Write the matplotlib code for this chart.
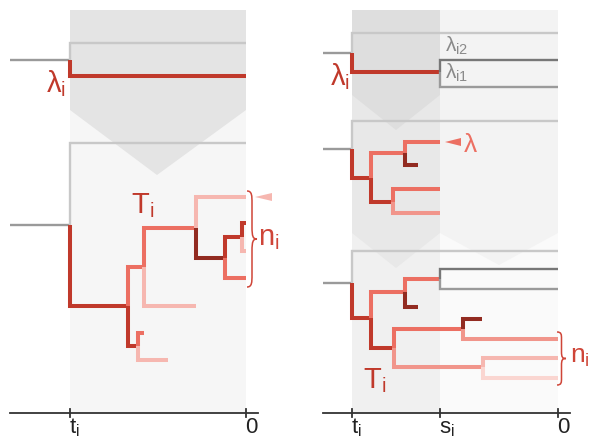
import matplotlib
matplotlib.use("Agg")
import matplotlib.pyplot as plt
from matplotlib.path import Path
from matplotlib.patches import PathPatch

plt.rcParams['font.family'] = ['Liberation Sans', 'DejaVu Sans']
plt.rcParams['mathtext.fontset'] = 'custom'
plt.rcParams['mathtext.rm'] = 'Liberation Sans'
plt.rcParams['mathtext.it'] = 'Liberation Sans'
plt.rcParams['mathtext.bf'] = 'Liberation Sans:bold'

# ---------------- colours ----------------
COL = {
    'lg': '#c8c8c8', 'g': '#9a9a9a', 'dg': '#777777',
    'dr': '#922b21', 'r': '#c0392b', 's': '#ec6f62',
    'ls': '#f1958b', 'p': '#f6b7b0', 'vp': '#fad6d1',
}

# ---------------- background regions (polygons, screen units) ----------------
bg_left_full = ([70, 246, 246, 70], [10, 10, 413, 413], '#f6f6f6')
bg_left_top = ([70, 246, 246, 157, 70], [10, 10, 110, 175, 110], '#e4e4e4')
bg_r1_full = ([352, 440, 440, 352], [10, 10, 413, 413], '#f0f0f0')
bg_r1_mid = ([352, 440, 440, 396, 352], [10, 10, 233, 268, 233], '#e8e8e8')
bg_r1_top = ([352, 440, 440, 396, 352], [10, 10, 95, 130, 95], '#dedede')
bg_r2_full = ([440, 558, 558, 440], [10, 10, 413, 413], '#fafafa')
bg_r2_top = ([440, 558, 558, 499, 440], [10, 10, 233, 265, 233], '#f3f3f3')
backgrounds = [bg_left_full, bg_left_top, bg_r1_full, bg_r1_mid, bg_r1_top,
               bg_r2_full, bg_r2_top]

# ---------------- trees: (x_parent, y_parent, x_end, y_child, colour) ----------------
tree_left_top = [
    (10, 60, 70, 60, 'g'),
    (70, 60, 246, 43, 'lg'),
    (70, 60, 246, 76, 'r'),
]
tree_left_bottom = [
    (10, 225, 70, 225, 'g'),
    (70, 225, 246, 143, 'lg'),
    (70, 225, 128, 306, 'r'),
    (128, 306, 144, 267, 's'),
    (128, 306, 138, 346, 'r'),
    (144, 267, 196, 228, 's'),
    (144, 267, 196, 306, 'p'),
    (196, 228, 246, 197, 'p'),
    (196, 228, 225, 258, 'dr'),
    (225, 258, 242, 237, 'r'),
    (225, 258, 246, 278, 's'),
    (242, 237, 246, 223, 'r'),
    (242, 237, 246, 251, 'p'),
    (138, 346, 144, 333, 's'),
    (138, 346, 168, 360, 'p'),
]
tree_right_top = [
    (323, 53, 352, 53, 'g'),
    (352, 53, 558, 33, 'lg'),
    (352, 53, 440, 72, 'r'),
    (440, 72, 558, 60, 'dg'),
    (440, 72, 558, 87, 'g'),
]
tree_right_mid = [
    (323, 149, 352, 149, 'g'),
    (352, 149, 558, 121, 'lg'),
    (352, 149, 371, 178, 'r'),
    (371, 178, 405, 153, 's'),
    (371, 178, 393, 202, 'r'),
    (405, 153, 440, 142, 's'),
    (405, 153, 418, 165, 'dr'),
    (393, 202, 440, 189, 's'),
    (393, 202, 440, 213, 'ls'),
]
tree_right_bottom = [
    (323, 283, 352, 283, 'g'),
    (352, 283, 558, 251, 'lg'),
    (352, 283, 371, 318, 'r'),
    (371, 318, 405, 292, 's'),
    (371, 318, 394, 348, 'r'),
    (405, 292, 440, 279, 's'),
    (405, 292, 418, 307, 'dr'),
    (440, 279, 558, 269, 'dg'),
    (440, 279, 558, 289, 'g'),
    (394, 348, 463, 329, 's'),
    (394, 348, 483, 367, 'ls'),
    (463, 329, 482, 319, 'dr'),
    (463, 329, 558, 339, 'ls'),
    (483, 367, 558, 358, 'p'),
    (483, 367, 558, 378, 'vp'),
]
trees = [tree_left_top, tree_left_bottom, tree_right_top, tree_right_mid,
         tree_right_bottom]

# ---------------- time axes ----------------
axis_left = (10, 258, 413)
axis_right = (323, 570, 413)
ticks_left = [70, 246]
ticklabels_left = [r'$\mathrm{t_i}$', '0']
ticks_right = [352, 440, 558]
ticklabels_right = [r'$\mathrm{t_i}$', r'$\mathrm{s_i}$', '0']

# ---------------- braces & arrows ----------------
braces = [(247, 191, 287, 10), (557, 332, 385, 9)]
arrows = [(255, 197, 272, 'p'), (445, 142, 461, 's')]

# ---------------- labels ----------------
labels = [
    (46, 92, r'$\mathrm{λ_i}$', '#c0392b', 21),
    (131, 213, r'$\mathrm{T_i}$', '#c0392b', 21),
    (258, 245, r'$\mathrm{n_i}$', '#cf4538', 21),
    (330, 85, r'$\mathrm{λ_i}$', '#c0392b', 21),
    (445, 52, r'$\mathrm{λ_{i2}}$', '#8a8a8a', 15),
    (445, 79, r'$\mathrm{λ_{i1}}$', '#8a8a8a', 15),
    (464, 152, 'λ', '#ec6f62', 19),
    (363, 388, r'$\mathrm{T_i}$', '#c0392b', 21),
    (570, 363, r'$\mathrm{n_i}$', '#cf4538', 19),
]

fig = plt.figure(figsize=(5.89, 4.38), dpi=100)
ax = fig.add_axes([0, 0, 1, 1])
ax.set_xlim(0, 589)
ax.set_ylim(438, 0)
ax.axis('off')

for xs, ys, c in backgrounds:
    ax.fill(xs, ys, color=c, lw=0, zorder=0)

for tree in trees:
    for xp, yp, xe, y, c in tree:
        lw = 1.7 if c in ('lg', 'g', 'dg') else 2.9
        ax.plot([xp, xp, xe], [yp, y, y], color=COL[c], lw=lw,
                solid_joinstyle='miter', solid_capstyle='butt', zorder=2)

for (x0, x1, y), ticks, tls in [(axis_left, ticks_left, ticklabels_left),
                                 (axis_right, ticks_right, ticklabels_right)]:
    ax.plot([x0, x1], [y, y], color='#333333', lw=1.3, zorder=3)
    for t, tl in zip(ticks, tls):
        ax.plot([t, t], [y - 4, y + 4], color='#333333', lw=1.3, zorder=3)
        ax.text(t - 1, y + 20, tl, ha='left', va='baseline', fontsize=16,
                color='#222222')

for x0, y0, y1, w in braces:
    ym = (y0 + y1) / 2
    h = ym - y0
    xm = x0 + 0.5 * w
    verts = [(x0, y0), (xm, y0), (xm, y0 + 0.1 * h), (xm, y0 + 0.25 * h),
             (xm, ym - 0.25 * h),
             (xm, ym - 0.05 * h), (x0 + 0.6 * w, ym), (x0 + w, ym),
             (x0 + 0.6 * w, ym), (xm, ym + 0.05 * h), (xm, ym + 0.25 * h),
             (xm, y1 - 0.25 * h),
             (xm, y1 - 0.1 * h), (xm, y1), (x0, y1)]
    codes = [Path.MOVETO, Path.CURVE4, Path.CURVE4, Path.CURVE4, Path.LINETO,
             Path.CURVE4, Path.CURVE4, Path.CURVE4,
             Path.CURVE4, Path.CURVE4, Path.CURVE4, Path.LINETO,
             Path.CURVE4, Path.CURVE4, Path.CURVE4]
    ax.add_patch(PathPatch(Path(verts, codes), fill=False, ec='#cf4538',
                           lw=1.1, zorder=3))

for xt, yt, xb, c in arrows:
    ax.fill([xt, xb, xb], [yt, yt - 4, yt + 4], color=COL[c], lw=0, zorder=3)

for x, y, s, c, fs in labels:
    ax.text(x, y, s, ha='left', va='baseline', color=c, fontsize=fs, zorder=4)

fig.savefig('out.png', dpi=100)
